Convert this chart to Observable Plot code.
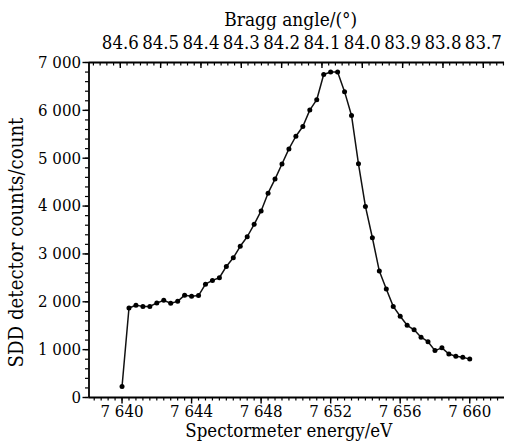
<!DOCTYPE html>
<html><head><meta charset="utf-8">
<script src="https://cdn.jsdelivr.net/npm/d3@7"></script>
<script src="https://cdn.jsdelivr.net/npm/@observablehq/plot@0.6"></script>
<style>
html,body{margin:0;padding:0;background:#fff}
#chart svg{display:block}
</style>
</head><body><div id="chart"></div>
<script>
const energy = [7640.0, 7640.4, 7640.8, 7641.2, 7641.6, 7642.0, 7642.4, 7642.8, 7643.2, 7643.6,
  7644.0, 7644.4, 7644.8, 7645.2, 7645.6, 7646.0, 7646.4, 7646.8, 7647.2, 7647.6,
  7648.0, 7648.4, 7648.8, 7649.2, 7649.6, 7650.0, 7650.4, 7650.8, 7651.2, 7651.6,
  7652.0, 7652.4, 7652.8, 7653.2, 7653.6, 7654.0, 7654.4, 7654.8, 7655.2, 7655.6,
  7656.0, 7656.4, 7656.8, 7657.2, 7657.6, 7658.0, 7658.4, 7658.8, 7659.2, 7659.6, 7660.0];
const counts = [230, 1870, 1928, 1904, 1904, 1974, 2030, 1970, 2009, 2138,
  2114, 2131, 2369, 2447, 2502, 2738, 2919, 3160, 3359, 3619,
  3899, 4270, 4564, 4879, 5194, 5459, 5662, 6005, 6223, 6748,
  6802, 6802, 6391, 5893, 4883, 3993, 3338, 2642, 2265, 1904,
  1698, 1509, 1415, 1260, 1166, 980, 1037, 908, 862, 840, 802];
const energyTicks = [7640, 7644, 7648, 7652, 7656, 7660];
const countTicks = [0, 1000, 2000, 3000, 4000, 5000, 6000, 7000];
const angleTicks = [84.6, 84.5, 84.4, 84.3, 84.2, 84.1, 84.0, 83.9, 83.8, 83.7];
const xTitle = "Spectormeter energy/eV";
const yTitle = "SDD detector counts/count";
const topTitle = "Bragg angle/(°)";

// find an installed serif face
const ctx = document.createElement("canvas").getContext("2d");
function pickFont(cands) {
  const s = "mmmmmmmmmmlliiWWW 7 640 Bragg angle";
  for (const f of cands) {
    let ok = true;
    for (const b of ["monospace", "sans-serif", "cursive"]) {
      ctx.font = `40px ${b}`;
      const w0 = ctx.measureText(s).width;
      ctx.font = `40px "${f}", ${b}`;
      const w1 = ctx.measureText(s).width;
      if (w0 === w1) { ok = false; break; }
    }
    if (ok) return f;
  }
  return null;
}
const serifFace = pickFont(["Liberation Serif", "Times New Roman", "Tinos", "DejaVu Serif Condensed", "DejaVu Serif"]);
const font = serifFace ? `"${serifFace}", serif` : "serif";
function fit(text, target, maxSize) {
  ctx.font = `100px ${font}`;
  const w = ctx.measureText(text).width;
  return Math.min(maxSize, 100 * target / w);
}
const fmt = d3.formatLocale({decimal: ".", thousands: " ", grouping: [3], currency: ["", ""]}).format(",");
const fsTick = fit(fmt(7000), 43, 20.5);
const fsAngle = fit("84.6", 37, 21);
const fsTop = fit(topTitle, 133, 21.5);
const fsX = fit(xTitle, 207, 21.5);
const fsY = fit(yTitle, 250, 21.5);

const data = energy.map((e, i) => ({e, c: counts[i]}));
const angleToEnergy = a => 7639.9 + (84.6 - a) * 23.2;
const xDomain = [7638.1, 7662];
const yDomain = [0, 7000];
const W = 513, H = 444, mL = 88.5, mR = 9, mT = 62, mB = 47;
const frameH = H - mT - mB;
const minorX = d3.range(-4, 60).map(k => 7640 + k * 0.4).filter(v => v > xDomain[0] && v < xDomain[1]);
const minorY = d3.range(0, 36).map(k => k * 200);
const minorAngle = d3.range(-6, 60).map(k => angleToEnergy(84.6 - k * 0.1 / 6)).filter(v => v > xDomain[0] && v < xDomain[1]);

const chart = Plot.plot({
  width: W, height: H,
  marginLeft: mL, marginRight: mR, marginTop: mT, marginBottom: mB,
  style: {fontFamily: font, fontSize: fsTick + "px", background: "#fff", color: "#000", overflow: "visible"},
  x: {domain: xDomain},
  y: {domain: yDomain},
  marks: [
    Plot.axisX(minorX, {anchor: "bottom", tickSize: 3.5, tickFormat: () => "", label: null, strokeWidth: 1.2}),
    Plot.axisX(energyTicks, {anchor: "bottom", tickSize: 6.5, tickPadding: 1.5, tickFormat: fmt, label: null, fontSize: fsTick, fontFamily: font, strokeWidth: 1.4}),
    Plot.axisY(minorY, {anchor: "left", tickSize: 3.5, tickFormat: () => "", label: null, strokeWidth: 1.2}),
    Plot.axisY(countTicks, {anchor: "left", tickSize: 6, tickPadding: 2, tickFormat: fmt, label: null, fontSize: fsTick, fontFamily: font, strokeWidth: 1.4}),
    Plot.ruleX(minorAngle, {x: d => d, insetBottom: frameH - 3.5, strokeWidth: 1.2}),
    Plot.ruleX(angleTicks, {x: angleToEnergy, insetBottom: frameH - 6, strokeWidth: 1.4}),
    Plot.text(angleTicks, {x: angleToEnergy, text: d => d.toFixed(1), frameAnchor: "top", lineAnchor: "bottom", dy: -14, fontSize: fsAngle, fontFamily: font}),
    Plot.text([topTitle], {text: d => d, frameAnchor: "top", lineAnchor: "bottom", dy: -37, dx: -6, fontSize: fsTop, fontFamily: font}),
    Plot.text([xTitle], {text: d => d, frameAnchor: "bottom", lineAnchor: "top", dy: 26.5, dx: -8, fontSize: fsX, fontFamily: font}),
    Plot.text([yTitle], {text: d => d, frameAnchor: "left", textAnchor: "middle", rotate: -90, lineAnchor: "middle", dx: -72.5, dy: 12.5, fontSize: fsY, fontFamily: font}),
    Plot.ruleY([0], {strokeWidth: 1.8}),
    Plot.ruleY([7000], {strokeWidth: 1.8}),
    Plot.ruleX([xDomain[0]], {strokeWidth: 1.8}),
    Plot.line(data, {x: "e", y: "c", stroke: "#111", strokeWidth: 1.5}),
    Plot.dot(data, {x: "e", y: "c", r: 2.5, fill: "#000", stroke: "none"})
  ]
});
document.getElementById("chart").append(chart);
</script>
</body></html>
